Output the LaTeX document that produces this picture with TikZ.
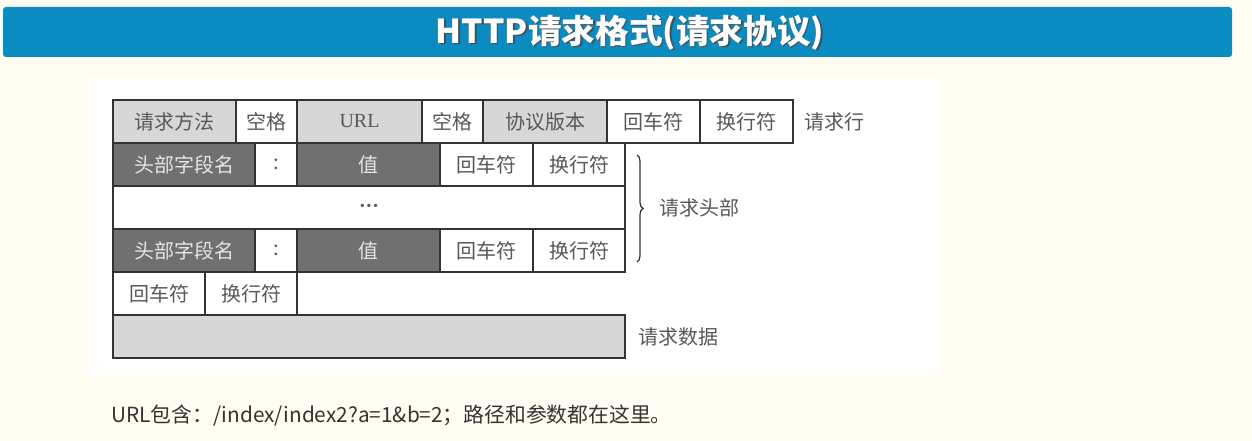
\documentclass[tikz,border=0pt]{standalone}
\usepackage{fontspec}
\usetikzlibrary{decorations.pathreplacing}
\newfontfamily\cjk{Noto Sans CJK SC}
\newfontfamily\serifnum{Liberation Serif}
\definecolor{pagebg}{HTML}{FFFDF2}
\definecolor{titleblue}{HTML}{0A8BC2}
\definecolor{lightcell}{HTML}{D7D7D7}
\definecolor{darkcell}{HTML}{707070}
\definecolor{celltext}{HTML}{585858}
\definecolor{gridline}{HTML}{333333}
\tikzset{
  cell/.style={draw=gridline, line width=1.4pt, minimum height=43pt, inner sep=0pt,
    font=\cjk\fontsize{20}{20}\selectfont, text=celltext, fill=white},
  light/.style={cell, fill=lightcell},
  dark/.style={cell, fill=darkcell, text=white!90!black},
  side/.style={font=\cjk\fontsize{20}{20}\selectfont, text=celltext, anchor=west, inner sep=0pt},
  titletext/.style={font=\cjk\bfseries\fontsize{33}{33}\selectfont, xscale=1.02},
}
\begin{document}
\begin{tikzpicture}[x=1pt,y=-1pt]
\useasboundingbox[fill=pagebg] (0,0) rectangle (1252,441);
% title bar
\fill[titleblue, rounded corners=3pt] (3,7) rectangle (1232,57);
\node[titletext, text=black!70] at (631.5,34) {HTTP请求格式(请求协议)};
\node[titletext, text=white] (title) at (630,32.5) {HTTP请求格式(请求协议)};
% white panel
\fill[white] (88,78) rectangle (940,375);
% request line
\node[light, minimum width=123pt] (m)  at (174.5,121.5) {请求方法};
\node[cell,  minimum width=61pt]  (s1) at (266.5,121.5) {空格};
\node[light, minimum width=125pt] (u)  at (359.5,121.5) {\serifnum URL};
\node[cell,  minimum width=61pt]  (s2) at (452.5,121.5) {空格};
\node[light, minimum width=124pt] (v)  at (545,121.5)   {协议版本};
\node[cell,  minimum width=93pt]  (cr0) at (653.5,121.5) {回车符};
\node[cell,  minimum width=93pt]  (lf0) at (746.5,121.5) {换行符};
\node[side] (lblline) at (804,121.5) {请求行};
% header lines
\node[dark,  minimum width=142pt] (h1) at (184,164.5)   {头部字段名};
\node[cell,  minimum width=42pt]  (c1) at (276,164.5)   {:};
\node[dark,  minimum width=143pt] (v1) at (368.5,164.5) {值};
\node[cell,  minimum width=93pt]  (cr1) at (486.5,164.5) {回车符};
\node[cell,  minimum width=92pt]  (lf1) at (579,164.5)   {换行符};
\node[cell,  minimum width=512pt] (dots) at (369,207.5)  {\raisebox{-5pt}[0pt][0pt]{\serifnum\bfseries ···}};
\node[dark,  minimum width=142pt] (h2) at (184,250.5)   {头部字段名};
\node[cell,  minimum width=42pt]  (c2) at (276,250.5)   {:};
\node[dark,  minimum width=143pt] (v2) at (368.5,250.5) {值};
\node[cell,  minimum width=93pt]  (cr2) at (486.5,250.5) {回车符};
\node[cell,  minimum width=92pt]  (lf2) at (579,250.5)   {换行符};
% blank line
\node[cell,  minimum width=92pt]  (cr3) at (159,293.5) {回车符};
\node[cell,  minimum width=92pt]  (lf3) at (251,293.5) {换行符};
% body
\node[light, minimum width=512pt] (body) at (369,336.5) {};
\node[side] (lblbody) at (638,336.5) {请求数据};
% header brace
\draw[gridline, line width=1.2pt, decorate, decoration={brace, amplitude=6pt}]
  (637,155) -- (637,262);
\node[side] (lblhead) at (659,208) {请求头部};
% note below
\node[font=\cjk\fontsize{20.8}{20.8}\selectfont, text=black!80, anchor=west, inner sep=0pt] (note)
  at (111,416) {URL包含：/index/index2?a=1\&b=2；路径和参数都在这里。};
\end{tikzpicture}
\end{document}
